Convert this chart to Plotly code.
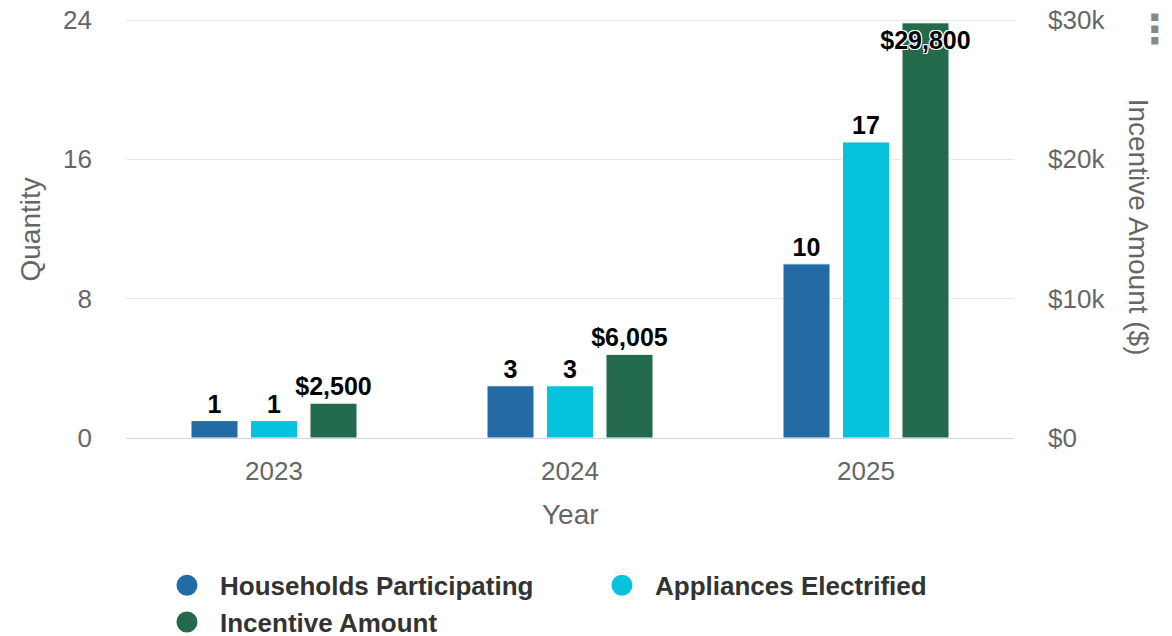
import plotly.graph_objects as go

years = ["2023", "2024", "2025"]
households = [1, 3, 10]
appliances = [1, 3, 17]
incentive = [2500, 6005, 29800]

left_ticks = [0, 8, 16, 24]
right_ticks = [0, 10000, 20000, 30000]
right_tick_labels = ["$0", "$10k", "$20k", "$30k"]

C_HH = "#236ba4"
C_AE = "#05c3dd"
C_IA = "#226a4b"
FONT = "Liberation Sans, Arial, sans-serif"
LABEL_SHADOW = "1px 1px 0 #fff, -1px -1px 0 #fff, 1px -1px 0 #fff, -1px 1px 0 #fff"
label_font = dict(family=FONT, size=25, color="#000000", weight="bold", shadow=LABEL_SHADOW)
TICK_FONT = dict(family=FONT, size=26, color="#666666")
TITLE_FONT = dict(family=FONT, size=28, color="#666666")

# tiny headroom so the top gridline (24 / $30k) is not clipped at the plot edge
HEAD = 1.0025

fig = go.Figure()
fig.add_trace(go.Bar(
    x=years, y=households, name="Households Participating", marker_color=C_HH,
    marker_line=dict(color="#ffffff", width=1), offsetgroup="1",
    texttemplate="%{y}", textposition="outside", textfont=label_font,
    constraintext="none", cliponaxis=False, showlegend=False, yaxis="y"))
fig.add_trace(go.Bar(
    x=years, y=appliances, name="Appliances Electrified", marker_color=C_AE,
    marker_line=dict(color="#ffffff", width=1), offsetgroup="2",
    texttemplate="%{y}", textposition="outside", textfont=label_font,
    constraintext="none", cliponaxis=False, showlegend=False, yaxis="y"))
fig.add_trace(go.Bar(
    x=years, y=incentive, name="Incentive Amount", marker_color=C_IA,
    marker_line=dict(color="#ffffff", width=1), offsetgroup="3",
    texttemplate="$%{y:,}", textposition=["outside", "outside", "inside"],
    insidetextanchor="end", textangle=0, textfont=label_font,
    insidetextfont=label_font, outsidetextfont=label_font,
    constraintext="none", cliponaxis=False, showlegend=False, yaxis="y2"))

# legend entries with circle symbols
for name, col in [("Households Participating", C_HH), ("Appliances Electrified", C_AE),
                  ("Incentive Amount", C_IA)]:
    fig.add_trace(go.Scatter(
        x=[None], y=[None], mode="markers", name=name,
        marker=dict(symbol="circle", size=16, color=col, line=dict(color=col, width=5)),
        showlegend=True, hoverinfo="skip"))

# page body has an 8px default margin: figure is 1164x628 so it fits the 1172x636 window
fig.update_layout(
    width=1164, height=628,
    margin=dict(l=118, r=158, t=11, b=198, autoexpand=False),
    paper_bgcolor="#ffffff", plot_bgcolor="#ffffff",
    font=dict(family=FONT, color="#666666", size=26),
    barmode="group", bargap=0.397, bargroupgap=0.21,
    xaxis=dict(
        type="category", showgrid=False, showline=True, linecolor="#ccd6eb", linewidth=1,
        ticks="", tickfont=TICK_FONT, ticklabelstandoff=10,
        zeroline=False, automargin=False,
    ),
    yaxis=dict(
        range=[0, 24 * HEAD], tickvals=left_ticks, showgrid=True, gridcolor="#e6e6e6",
        gridwidth=1, zeroline=False, showline=False, ticks="", tickfont=TICK_FONT,
        ticklabelstandoff=33, automargin=False, ticklabeloverflow="allow",
    ),
    yaxis2=dict(
        range=[0, 30000 * HEAD], tickvals=right_ticks, ticktext=right_tick_labels,
        overlaying="y", side="right", showgrid=False, zeroline=False, showline=False,
        ticks="", tickfont=TICK_FONT, ticklabelstandoff=33, automargin=False,
        ticklabeloverflow="allow",
    ),
    legend=dict(
        orientation="h", x=0.0315, xanchor="left", y=-0.2955, yanchor="top",
        font=dict(family=FONT, size=26, color="#333333", weight="bold"),
        itemwidth=56, entrywidth=364, entrywidthmode="pixels",
        itemclick=False, itemdoubleclick=False, bgcolor="rgba(0,0,0,0)",
    ),
    annotations=[
        dict(text="Year", xref="paper", yref="paper", x=0.5, y=-0.1818,
             showarrow=False, font=TITLE_FONT, xanchor="center", yanchor="middle"),
        dict(text="Quantity", xref="paper", yref="paper", x=-0.1081, y=0.4976,
             textangle=-90, showarrow=False, font=TITLE_FONT,
             xanchor="center", yanchor="middle"),
        dict(text="Incentive Amount ($)", xref="paper", yref="paper", x=1.1396, y=0.502,
             textangle=90, showarrow=False, font=TITLE_FONT,
             xanchor="center", yanchor="middle"),
        dict(text="⋮", xref="paper", yref="paper", x=1.1588, y=0.975, showarrow=False,
             font=dict(family="DejaVu Sans", size=40, color="#888888", weight="bold"),
             xanchor="center", yanchor="middle"),
    ],
    hovermode="closest",
)

fig.write_html("out.html", config={"displayModeBar": False})
